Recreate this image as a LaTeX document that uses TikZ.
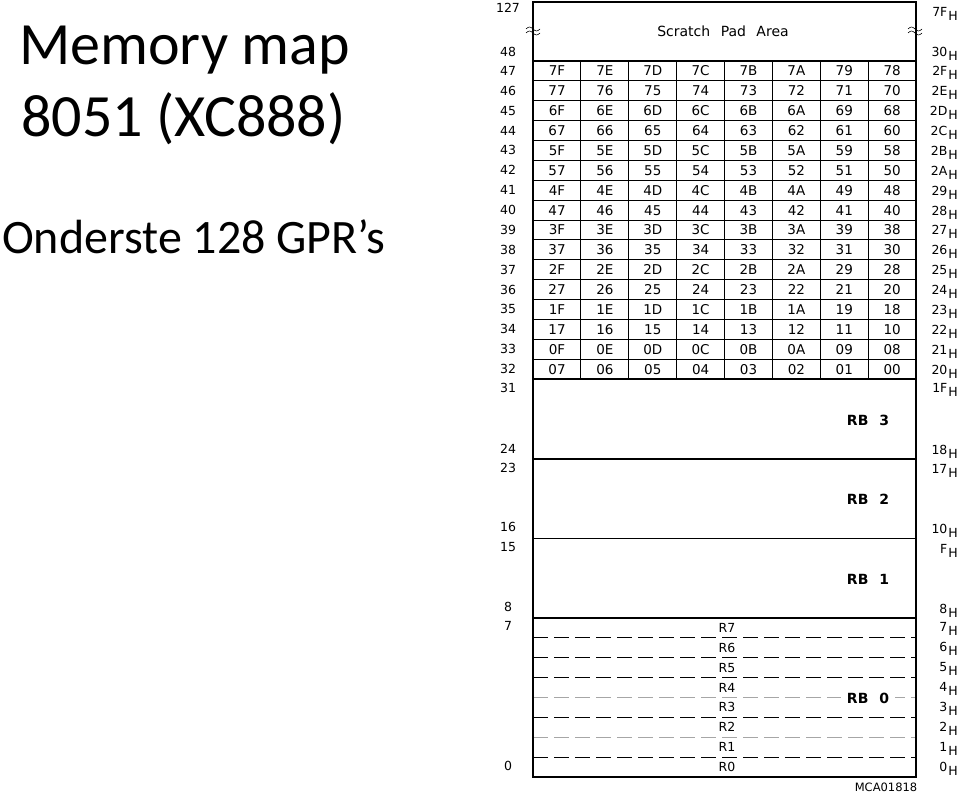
\documentclass[tikz,border=0pt]{standalone}
\usepackage{fontspec}
\setmainfont{DejaVu Sans}
\newfontfamily\titlefont{Carlito}
\newcommand\hexdigit[1]{\ifcase#1 0\or 1\or 2\or 3\or 4\or 5\or 6\or 7\or 8\or 9\or A\or B\or C\or D\or E\or F\fi}
\newcommand\hx[1]{#1\kern1pt\raisebox{-4pt}{H}}
\begin{document}
\begin{tikzpicture}[x=1pt,y=-1pt,
  frame/.style={line width=1.8pt},
  thinrule/.style={line width=0.8pt},
  midrule/.style={line width=1.3pt},
  cell/.style={inner sep=0pt,anchor=base,font=\fontsize{13.5}{13.5}\selectfont},
  leftlbl/.style={inner sep=0pt,anchor=base,font=\fontsize{12.5}{12.5}\selectfont},
  rightlbl/.style={inner sep=0pt,anchor=base east,font=\fontsize{12.5}{12.5}\selectfont},
  reglbl/.style={inner sep=0pt,anchor=base,font=\fontsize{12.5}{12.5}\selectfont},
  banklbl/.style={inner sep=0pt,font=\bfseries\fontsize{14}{14}\selectfont},
  darkdash/.style={line width=0.9pt,dash pattern=on 15pt off 6pt},
  lightdash/.style={line width=0.5pt,gray!70,dash pattern=on 15pt off 6pt},
  title/.style={anchor=base west,inner sep=0pt}]
\useasboundingbox (0,0) rectangle (960,794);

% titles
\node[title,font=\titlefont\fontsize{60}{60}\selectfont] (t1) at (19,65) {Memory map};
\node[title,font=\titlefont\fontsize{60}{60}\selectfont] (t2) at (21,137) {8051 (XC888)};
\node[title,font=\titlefont\fontsize{48}{48}\selectfont] (t3) at (2,253) {Onderste 128 GPR’s};

% scratch pad
\node[font=\fontsize{14}{14}\selectfont,inner sep=0pt] (spa) at (723,31) {Scratch\hspace{6pt} Pad\hspace{6pt} Area};

% bit-addressable grid
\foreach \k in {0,...,15}{
  \pgfmathsetmacro\yy{70.94+19.875*\k}
  \pgfmathtruncatemacro\lv{47-\k}
  \pgfmathtruncatemacro\rlo{mod(47-\k,16)}
  \node[leftlbl] (ll-\k) at (508,\yy+4.5) {\lv};
  \node[rightlbl] (rl-\k) at (958,\yy+5) {\hx{2\hexdigit{\rlo}}};
  \foreach \j in {0,...,7}{
    \pgfmathtruncatemacro\v{127-8*\k-\j}
    \pgfmathtruncatemacro\hi{floor(\v/16)}
    \pgfmathtruncatemacro\lo{mod(\v,16)}
    \node[cell] (c-\k-\j) at (557+47.875*\j,\yy+5) {\hexdigit{\hi}\hexdigit{\lo}};
  }
}
\foreach \k in {1,...,15}{
  \draw[thinrule] (533,61+19.875*\k) -- (916,61+19.875*\k);
}
\foreach \j in {1,2,3,4,6,7}{
  \draw[thinrule] (533+47.875*\j,61) -- (533+47.875*\j,379);
}
\draw[midrule] (772.4,61) -- (772.4,379);

% register bank separators
\draw[frame] (533,61) -- (916,61);
\draw[frame] (533,379) -- (916,379);
\draw[frame] (533,459) -- (916,459);
\draw[line width=1.1pt] (533,538.5) -- (916,538.5);
\draw[frame] (533,618) -- (916,618);

% RB0 dashed rows
\foreach \m in {1,2,3,5,7}{
  \draw[darkdash] (533,618+19.875*\m) -- (916,618+19.875*\m);
}
\foreach \m in {4,6}{
  \draw[lightdash] (533,618+19.875*\m) -- (916,618+19.875*\m);
}

% outer frame
\draw[frame] (533,2) rectangle (916,777);

% break marks
\foreach \cx/\nm in {533/bl,915/br}{
  \foreach \dy in {29,33}{
    \draw[line width=0.6pt] (\cx-7,\dy) sin (\cx-3.5,\dy-2) cos (\cx,\dy) sin (\cx+3.5,\dy+2) cos (\cx+7,\dy);
  }
}

% left labels of upper area and banks
\node[leftlbl] (l127) at (508,12.5) {127};
\node[leftlbl] (l48) at (508,56.5) {48};
\node[leftlbl] (l31) at (508,392.5) {31};
\node[leftlbl] (l24) at (508,453.5) {24};
\node[leftlbl] (l23) at (508,472.5) {23};
\node[leftlbl] (l16) at (508,531.5) {16};
\node[leftlbl] (l15) at (508,551.5) {15};
\node[leftlbl] (l8) at (508,611.5) {8};
\node[leftlbl] (l7) at (508,630.5) {7};
\node[leftlbl] (l0) at (508,770.5) {0};

% right labels
\node[rightlbl] (r7F) at (958,17) {\hx{7F}};
\node[rightlbl] (r30) at (958,57) {\hx{30}};
\node[rightlbl] (r1F) at (958,392) {\hx{1F}};
\node[rightlbl] (r18) at (958,454) {\hx{18}};
\node[rightlbl] (r17) at (958,473) {\hx{17}};
\node[rightlbl] (r10) at (958,533) {\hx{10}};
\node[rightlbl] (r0F) at (958,553) {\hx{F}};
\node[rightlbl] (r8) at (958,613) {\hx{8}};
\foreach \n in {0,...,7}{
  \node[rightlbl] (rr-\n) at (958,771-20*\n) {\hx{\n}};
  \node[reglbl] (R\n) at (727,771.5-19.875*\n) {R\n};
}

% bank labels
\node[banklbl] (rb3) at (868,420) {RB\hspace{6pt} 3};
\node[banklbl] (rb2) at (868,499) {RB\hspace{6pt} 2};
\node[banklbl] (rb1) at (868,579) {RB\hspace{6pt} 1};
\node[banklbl,fill=white,inner xsep=6pt,inner ysep=3pt] (rb0) at (868,698) {RB\hspace{6pt} 0};

\node[inner sep=0pt,font=\fontsize{11.5}{11.5}\selectfont] (code) at (886,787) {MCA01818};
\end{tikzpicture}
\end{document}
